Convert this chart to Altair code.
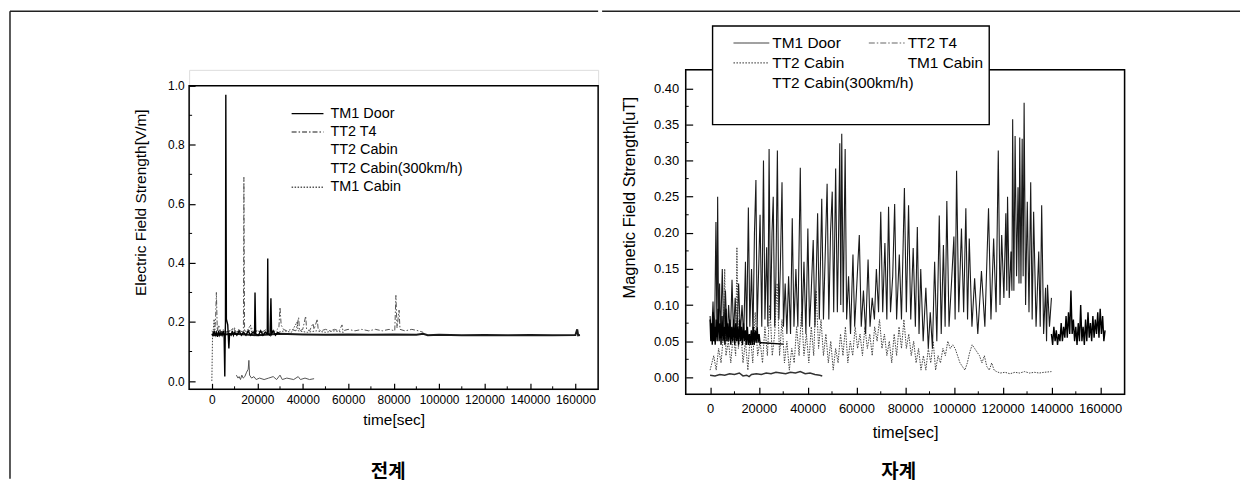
import altair as alt
import pandas as pd

# ---------------- data ----------------
# Electric field (left panel): (time[sec], V/m)
E_TM1_DOOR = [(0,0.16),(500,0.155),(1000,0.17),(1500,0.155),(2000,0.165),(2500,0.15),(3000,0.17),
    (3500,0.155),(4000,0.165),(4500,0.155),(5000,0.17),(5400,0.155),(5700,0.015),(5900,0.16),
    (6000,0.20),(6150,0.97),(6400,0.21),(7000,0.19),(7500,0.11),(7800,0.16),(8500,0.155),(9000,0.17),
    (9500,0.155),(10000,0.165),(11000,0.155),(12000,0.17),(13000,0.155),(14000,0.165),(15000,0.155),
    (16000,0.17),(17000,0.155),(18000,0.165),(18800,0.16),(19000,0.30),(19300,0.16),(20500,0.155),
    (21500,0.17),(22500,0.155),(23500,0.165),(24400,0.16),(24600,0.415),(24800,0.16),(25600,0.155),
    (26000,0.28),(26300,0.16),(27000,0.17),(28000,0.155),(29000,0.165),(30000,0.16)]
E_TT2_T4 = [(0,0.17),(1000,0.16),(1600,0.20),(2000,0.30),(2400,0.17),(3000,0.19),(4000,0.165),
    (5000,0.175),(6000,0.165),(8000,0.17),(9500,0.18),(10500,0.165),(12000,0.175),(13500,0.165),
    (13900,0.17),(14100,0.69),(14400,0.17),(16000,0.165),(17500,0.18),(18500,0.165),(20000,0.17),
    (22000,0.165),(24000,0.175),(26000,0.165),(28000,0.17),(29500,0.18),(30000,0.25),(30500,0.19),
    (31500,0.175),(33000,0.17),(35000,0.175),(37000,0.17),(38200,0.215),(38600,0.17),(40000,0.175),
    (41300,0.22),(41700,0.175),(43000,0.17),(44500,0.195),(45000,0.175),(46400,0.21),(46800,0.175),
    (48000,0.17),(50000,0.175),(52000,0.17),(54000,0.175),(56000,0.17),(57300,0.19),(57700,0.17),
    (60000,0.175),(63000,0.17),(66000,0.175),(69000,0.17),(72000,0.175),(75000,0.17),(78000,0.175),
    (80500,0.17),(81000,0.29),(81500,0.18),(82400,0.24),(82800,0.175),(85000,0.17),(88000,0.175),
    (91000,0.17),(93000,0.165)]
E_TT2_CABIN = [(10800,0.02),(11500,0.01),(12000,0.015),(12600,0.005),(13200,0.02),(13800,0.01),
    (14500,0.015),(15300,0.03),(16000,0.04),(16300,0.07),(16600,0.02),(17500,0.01),(18500,0.015),
    (19500,0.005),(21000,0.01),(23000,0.005),(25000,0.01),(27000,0.015),(28500,0.005),(30000,0.02),
    (31000,0.005),(33000,0.01),(36000,0.005),(38000,0.015),(39000,0.005),(41000,0.01),(43000,0.005),
    (45000,0.008)]
E_TT2_CABIN_300 = [(0,0.155),(10000,0.16),(20000,0.155),(30000,0.16),(40000,0.158),(50000,0.157),
    (60000,0.158),(70000,0.157),(80000,0.158),(90000,0.157),(93000,0.16),(95000,0.155),(100000,0.157),
    (110000,0.155),(120000,0.156),(130000,0.155),(140000,0.156),(150000,0.155),(160000,0.156),
    (160800,0.175),(161200,0.155),(162000,0.156)]
E_TM1_CABIN = [(0,0.0),(300,0.15),(600,0.17),(1000,0.21),(1400,0.17),(2000,0.165),(3000,0.175),
    (4000,0.165),(5000,0.17),(6000,0.165),(8000,0.17),(10000,0.18),(10500,0.165),(12000,0.17),
    (14000,0.165),(16000,0.175),(17000,0.19),(17500,0.165),(20000,0.17),(23000,0.165),(26000,0.17),
    (29000,0.165),(32000,0.17),(35000,0.165),(37500,0.20),(38000,0.17),(42000,0.165),(46000,0.17),
    (50000,0.165),(54000,0.17),(58000,0.165)]

# Magnetic field (right panel): (time[sec], uT)
M_TM1_DOOR = [(0,0.08),(300,0.05),(600,0.075),(900,0.045),(1200,0.09),(1500,0.05),(1800,0.07),
    (2100,0.045),(2500,0.08),(2900,0.05),(3300,0.095),(3700,0.05),(4100,0.075),(4500,0.045),
    (4900,0.085),(5300,0.05),(5700,0.07),(6100,0.045),(6500,0.095),(6900,0.05),(7300,0.075),
    (7700,0.05),(8100,0.08),(8500,0.045),(8900,0.07),(9300,0.05),(9700,0.08),(10100,0.045),
    (10500,0.075),(10900,0.05),(11300,0.07),(11700,0.045),(12100,0.08),(12500,0.05),(12900,0.07),
    (13300,0.045),(13700,0.075),(14100,0.05),(14500,0.065),(14900,0.045),(15300,0.07),(15700,0.045),
    (16100,0.06),(16500,0.045),(16900,0.065),(17300,0.045),(17700,0.07),(18100,0.045),(18500,0.065),
    (18900,0.048),(19300,0.07),(19700,0.048),(20100,0.06),(20500,0.047),(21000,0.048),(30000,0.046)]
M_TT2_T4 = [(0,0.085),(600,0.055),(1200,0.105),(1800,0.05),(2400,0.215),(2800,0.06),(3100,0.25),
    (3500,0.07),(3900,0.13),(4300,0.055),(5000,0.15),(5600,0.06),(6300,0.12),(7000,0.05),(7600,0.10),
    (8300,0.055),(9000,0.135),(9600,0.06),(10300,0.11),(11000,0.05),(11700,0.13),(12400,0.06),
    (13100,0.10),(13800,0.055),(14500,0.16),(15000,0.06),(15700,0.235),(16300,0.07),(17000,0.15),
    (17600,0.06),(18200,0.20),(18800,0.273),(19300,0.07),(20000,0.16),(20500,0.225),(21200,0.07),
    (21900,0.30),(22500,0.08),(23200,0.18),(23700,0.07),(24200,0.316),(24800,0.08),(25400,0.20),
    (25900,0.25),(26500,0.07),(27000,0.14),(27600,0.314),(28200,0.08),(28800,0.15),(29500,0.27),
    (30100,0.07),(30800,0.13),(31500,0.06),(32200,0.14),(33000,0.06),(33700,0.22),(34400,0.07),
    (35200,0.15),(36000,0.07),(37000,0.29),(37700,0.07),(38500,0.16),(39300,0.06),(40100,0.206),
    (40800,0.07),(41500,0.12),(42300,0.19),(43000,0.07),(43600,0.15),(44100,0.227),(44800,0.08),
    (45800,0.247),(46500,0.08),(47300,0.18),(48000,0.268),(48700,0.08),(49400,0.20),(50100,0.257),
    (50700,0.09),(51500,0.289),(52200,0.09),(52800,0.22),(53200,0.324),(53600,0.10),(54000,0.337),
    (54600,0.09),(55400,0.316),(56000,0.08),(56800,0.14),(57600,0.06),(58600,0.17),(59300,0.07),
    (60200,0.13),(61200,0.197),(62000,0.07),(62900,0.12),(63800,0.06),(64800,0.163),(65600,0.07),
    (66500,0.11),(67400,0.08),(68200,0.15),(69100,0.09),(70000,0.229),(70800,0.09),(71700,0.186),
    (72500,0.08),(73200,0.236),(74000,0.09),(74900,0.14),(75700,0.24),(76500,0.08),(77600,0.17),
    (78500,0.08),(79700,0.262),(80500,0.09),(81400,0.238),(82300,0.08),(83300,0.179),(84200,0.07),
    (85000,0.208),(85700,0.06),(86400,0.15),(87400,0.05),(88500,0.124),(89500,0.04),(90300,0.09),
    (91200,0.04),(92100,0.16),(93000,0.05),(94000,0.224),(94800,0.06),(95700,0.183),(96400,0.07),
    (97100,0.244),(98000,0.07),(99000,0.13),(100000,0.195),(100500,0.08),(101100,0.286),(102000,0.09),
    (103100,0.206),(104000,0.09),(104900,0.234),(105600,0.08),(106300,0.192),(107400,0.07),
    (108500,0.137),(109800,0.06),(111300,0.147),(112700,0.07),(114200,0.234),(115200,0.08),
    (116300,0.192),(117300,0.09),(118200,0.314),(118900,0.10),(119600,0.197),(120500,0.11),
    (121300,0.227),(121700,0.12),(122000,0.25),(122700,0.11),(123400,0.174),(123800,0.12),
    (124100,0.357),(124600,0.12),(125100,0.334),(125700,0.14),(126300,0.263),(126700,0.13),
    (127000,0.332),(127500,0.13),(128000,0.33),(128400,0.14),(128800,0.38),(129400,0.10),
    (130100,0.243),(130800,0.09),(131500,0.27),(132100,0.08),(132700,0.229),(133700,0.07),
    (134800,0.174),(135400,0.07),(136000,0.238),(136800,0.06),(137600,0.124),(138000,0.05),
    (138400,0.128),(139200,0.07),(140000,0.11)]
M_TT2_CABIN = [(0,0.01),(1500,0.03),(2500,0.01),(3500,0.04),(4500,0.02),(5500,0.06),(6000,0.15),
    (6500,0.03),(7500,0.05),(8500,0.02),(9500,0.06),(10500,0.03),(11000,0.18),(11600,0.04),
    (12500,0.07),(13500,0.02),(14500,0.05),(15500,0.01),(16500,0.06),(17500,0.02),(18500,0.09),
    (19500,0.03),(20500,0.05),(21500,0.02),(22500,0.07),(23500,0.03),(24500,0.10),(25500,0.03),
    (26500,0.06),(27500,0.13),(28500,0.03),(29500,0.08),(30500,0.02),(31500,0.05),(32500,0.01),
    (33500,0.04),(34500,0.02),(35500,0.07),(36500,0.03),(37500,0.09),(38500,0.03),(39500,0.06),
    (40500,0.02),(41500,0.07),(42500,0.03),(43500,0.12),(44500,0.04),(45500,0.08),(46500,0.03),
    (47500,0.06),(48500,0.02),(49500,0.05),(50500,0.01),(51500,0.04),(52500,0.02),(53500,0.06),
    (54500,0.03),(55500,0.07),(56500,0.02),(57500,0.05),(58500,0.03),(59500,0.07),(60500,0.04),
    (61500,0.06),(62500,0.03),(63500,0.07),(64500,0.04),(65500,0.06),(66500,0.03),(67500,0.07),
    (68500,0.05),(69500,0.08),(70500,0.04),(71500,0.06),(72500,0.03),(73500,0.05),(74500,0.02),
    (75500,0.06),(76500,0.03),(77500,0.07),(78500,0.04),(79500,0.08),(80500,0.04),(81500,0.06),
    (82500,0.03),(83500,0.05),(84500,0.02),(85500,0.04),(86500,0.01),(87500,0.03),(88500,0.01),
    (89500,0.04),(90500,0.02),(91500,0.05),(92500,0.01),(93500,0.03),(94500,0.02),(95500,0.04),
    (96500,0.03),(97500,0.05),(98500,0.04),(99500,0.045),(100500,0.04),(101500,0.03),(102500,0.02),
    (103500,0.015),(104500,0.01),(105500,0.02),(106500,0.035),(107500,0.045),(108500,0.04),
    (109500,0.035),(110500,0.03),(111500,0.02),(112500,0.03),(113500,0.015),(114500,0.01),
    (115500,0.02),(116500,0.01),(117500,0.008),(119000,0.006),(121000,0.007),(123000,0.005),
    (125000,0.007),(127000,0.006),(129000,0.008),(131000,0.006),(133000,0.007),(135000,0.006),
    (137000,0.007),(140000,0.008)]
M_TM1_CABIN = [(0,0.003),(2000,0.002),(4000,0.004),(6000,0.003),(8000,0.005),(10000,0.004),
    (12000,0.006),(13500,0.002),(15000,0.003),(16000,0.001),(17000,0.004),(19000,0.005),(21000,0.004),
    (23000,0.006),(25000,0.005),(27000,0.007),(29000,0.006),(31000,0.005),(33000,0.007),(35000,0.006),
    (37000,0.008),(39000,0.005),(41000,0.006),(43000,0.004),(45000,0.003),(46000,0.002)]
M_TT2_CABIN_300 = [(140000,0.06),(140500,0.045),(141000,0.07),(141500,0.05),(142000,0.065),
    (142500,0.045),(143000,0.06),(143500,0.05),(144000,0.075),(144500,0.05),(145000,0.07),
    (145500,0.055),(146000,0.085),(146500,0.055),(147000,0.09),(147500,0.06),(148000,0.12),
    (148500,0.06),(149000,0.08),(149500,0.05),(150000,0.07),(150500,0.045),(151000,0.075),
    (151500,0.05),(152000,0.10),(152500,0.05),(153000,0.07),(153500,0.045),(154000,0.08),
    (154500,0.05),(155000,0.09),(155500,0.055),(156000,0.075),(156500,0.05),(157000,0.085),
    (157500,0.055),(158000,0.08),(158500,0.06),(159000,0.09),(159500,0.055),(160000,0.095),
    (160500,0.06),(161000,0.085),(161500,0.05),(162000,0.065)]

X_TICKS = [0, 20000, 40000, 60000, 80000, 100000, 120000, 140000, 160000]
X_MINOR = [10000, 30000, 50000, 70000, 90000, 110000, 130000, 150000]
E_Y_TICKS = [0.0, 0.2, 0.4, 0.6, 0.8, 1.0]
E_Y_MINOR = [0.1, 0.3, 0.5, 0.7, 0.9]
M_Y_TICKS = [0.0, 0.05, 0.10, 0.15, 0.20, 0.25, 0.30, 0.35, 0.40]
M_Y_MINOR = [0.025, 0.075, 0.125, 0.175, 0.225, 0.275, 0.325, 0.375]

E_LEGEND = ["TM1 Door", "TT2 T4", "TT2 Cabin", "TT2 Cabin(300km/h)", "TM1 Cabin"]
M_LEGEND_COL1 = ["TM1 Door", "TT2 Cabin", "TT2 Cabin(300km/h)"]
M_LEGEND_COL2 = ["TT2 T4", "TM1 Cabin"]
E_CAPTION = "전계"
M_CAPTION = "자계"

FONT = "Liberation Sans"
KFONT = "Noto Sans CJK KR"
ONE = pd.DataFrame({"k": [0]})
LINE_SYMBOL = "M-2,0H2"   # a legend line twice as long as it is tall


def pts(pairs):
    return pd.DataFrame(pairs, columns=["t", "v"])


def legend_layer(names, colors, dashes, field, **leg):
    lg = alt.Legend(title=None, orient="none", symbolType=LINE_SYMBOL, labelFont=FONT,
                    labelColor="black", padding=0, labelLimit=300, direction="vertical",
                    columns=1, zindex=1, **leg)
    return alt.Chart(pd.DataFrame({field: names})).mark_line().encode(
        x=alt.value(0), y=alt.value(0),
        color=alt.Color(f"{field}:N", scale=alt.Scale(domain=names, range=colors), legend=lg),
        strokeDash=alt.StrokeDash(f"{field}:N", scale=alt.Scale(domain=names, range=dashes),
                                  legend=lg))


def panel(W, H, top, xdom, ydom, yticks, yfmt, xminor, yminor, ytitle, series,
          fs_tick, fs_title, tick, lab_pad_x, lab_pad_y, title_pad_x, ytitle_x, ytitle_y):
    xs = alt.Scale(domain=xdom, nice=False, zero=False)
    ys = alt.Scale(domain=ydom, nice=False, zero=False)
    ax_x = alt.Axis(values=X_TICKS, format="d", tickSize=tick, offset=-tick, domain=False,
                    grid=False, labelPadding=lab_pad_x, labelFont=FONT, labelFontSize=fs_tick,
                    labelColor="black", tickColor="black", tickWidth=1.2, labelOverlap=False,
                    labelFlush=False, title="time[sec]", titleFont=FONT, titleFontSize=fs_title,
                    titleFontWeight="normal", titleColor="black", titlePadding=title_pad_x)
    ax_y = alt.Axis(values=yticks, format=yfmt, tickSize=tick, offset=-tick, domain=False,
                    grid=False, labelPadding=lab_pad_y, labelFont=FONT, labelFontSize=fs_tick,
                    labelColor="black", tickColor="black", tickWidth=1.2, labelOverlap=False,
                    labelFlush=False, title=ytitle, titleFont=FONT, titleFontSize=fs_title,
                    titleFontWeight="normal", titleColor="black", titleX=ytitle_x,
                    titleY=ytitle_y)
    X = alt.X("t:Q", scale=xs, axis=ax_x)
    Y = alt.Y("v:Q", scale=ys, axis=ax_y)

    layers = [
        alt.Chart(ONE).mark_rect(fillOpacity=0, stroke="black", strokeWidth=1.5).encode(
            x=alt.value(0), x2=alt.value(W), y=alt.value(top), y2=alt.value(H)),
        alt.Chart(pd.DataFrame({"t": xminor})).mark_rule(color="black", strokeWidth=1).encode(
            x=X, y=alt.value(H), y2=alt.value(H - 3)),
        alt.Chart(pd.DataFrame({"v": yminor})).mark_rule(color="black", strokeWidth=1).encode(
            y=Y, x=alt.value(0), x2=alt.value(3)),
    ]
    for pairs, style in series:
        layers.append(alt.Chart(pts(pairs)).mark_line(**style).encode(x=X, y=Y))
    return layers


def caption(text, x, y):
    return alt.Chart(ONE).mark_text(text=text, font=KFONT, fontSize=19, fontWeight="bold",
                                    color="black", align="center", baseline="middle").encode(
        x=alt.value(x), y=alt.value(y))


# ---------------- left panel: electric field ----------------
# plot frame is 411 x 305; the view is 16 px taller so both panels share the same top
LW, LH, LTOP = 411, 321, 16
L_YDOM = [-0.028, 1.0 + 16 * 1.028 / 305]
e_layers = panel(
    LW, LH, LTOP, [-10000, 170000], L_YDOM, E_Y_TICKS, ".1f", X_MINOR, E_Y_MINOR,
    "Electric Field Strength[V/m]",
    [
        (E_TT2_CABIN_300, dict(color="#1a1a1a", strokeWidth=2)),
        (E_TT2_CABIN, dict(color="#555555", strokeWidth=1)),
        (E_TM1_CABIN, dict(color="#444444", strokeWidth=1, strokeDash=[1.5, 1.5])),
        (E_TT2_T4, dict(color="#555555", strokeWidth=1, strokeDash=[5, 2, 1.5, 2])),
        (E_TM1_DOOR, dict(color="black", strokeWidth=1.4)),
    ],
    12, 15.5, 6, 5, 5, 7, -47, 133)
e_legend = legend_layer(
    E_LEGEND, ["black", "#666666", "white", "white", "#555555"],
    [[1, 0], [5, 2, 1.5, 2], [1, 0], [1, 0], [1.5, 1.5]], "s",
    legendX=110, legendY=35, symbolSize=256, symbolStrokeWidth=1.4, labelFontSize=14.5,
    labelOffset=14, rowPadding=2.5)
# scanned-page border: left edge and left part of the top edge
left_border = [
    alt.Chart(ONE).mark_rule(color="#222222", strokeWidth=1.5).encode(
        x=alt.value(-180), y=alt.value(-59), y2=alt.value(411)),
    alt.Chart(ONE).mark_rule(color="#222222", strokeWidth=1.5).encode(
        x=alt.value(-180), x2=alt.value(LW), y=alt.value(-59)),
]
left = alt.layer(*left_border, *e_layers, e_legend,
                 caption(E_CAPTION, 200, 404)).properties(width=LW, height=LH)

# ---------------- right panel: magnetic field ----------------
RW, RH = 441, 326
m_layers = panel(
    RW, RH, 0, [-10000, 170000], [-0.0234, 0.4255], M_Y_TICKS, ".2f", X_MINOR, M_Y_MINOR,
    "Magnetic Field Strength[uT]",
    [
        (M_TM1_CABIN, dict(color="#333333", strokeWidth=1.5)),
        (M_TT2_CABIN, dict(color="#444444", strokeWidth=1, strokeDash=[1.5, 1.2])),
        (M_TT2_T4, dict(color="#1a1a1a", strokeWidth=1.1)),
        (M_TM1_DOOR, dict(color="black", strokeWidth=1.4)),
        (M_TT2_CABIN_300, dict(color="black", strokeWidth=1.4)),
    ],
    13, 16.5, 7, 8, 7, 9, -55, 128)
m_leg_common = dict(legendY=-37, symbolSize=324, symbolStrokeWidth=1.2, labelFontSize=15.5,
                    labelOffset=11, rowPadding=1)
m_legend1 = legend_layer(M_LEGEND_COL1, ["#444444", "#555555", "white"],
                         [[1, 0], [1.5, 1.5], [1, 0]], "s", legendX=56, **m_leg_common)
m_legend2 = legend_layer(M_LEGEND_COL2, ["#666666", "white"],
                         [[6, 2, 1.5, 2], [1, 0]], "s2", legendX=192, **m_leg_common)
legend_box = alt.Chart(ONE).mark_rect(fill="white", stroke="black", strokeWidth=1.4).encode(
    x=alt.value(27), x2=alt.value(305), y=alt.value(-44), y2=alt.value(55))
# right part of the page's top edge
right_border = alt.Chart(ONE).mark_rule(color="#222222", strokeWidth=1.5).encode(
    x=alt.value(-84), x2=alt.value(557), y=alt.value(-59))
right = alt.layer(right_border, *m_layers, legend_box, m_legend1, m_legend2,
                  caption(M_CAPTION, 214, 404)).resolve_scale(
    color="independent", strokeDash="independent"
).properties(width=RW, height=RH)

chart = alt.hconcat(left, right, spacing=0).resolve_scale(
    color="independent", strokeDash="independent"
).resolve_legend(
    color="independent", strokeDash="independent"
).properties(
    padding=0, background="white"
).configure_view(stroke=None).configure(font=FONT)

chart.save("out.html", embed_options={"renderer": "svg", "actions": False})
